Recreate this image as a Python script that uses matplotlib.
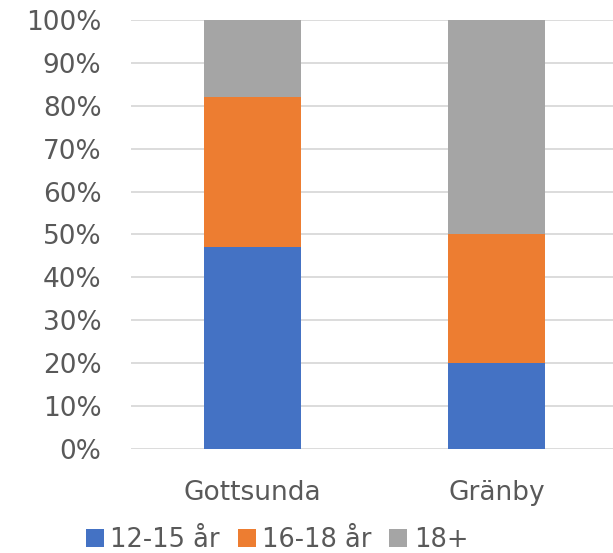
import matplotlib.pyplot as plt

# Andel per åldersgrupp
areas = ["Gottsunda", "Gränby"]
groups = ["12-15 år", "16-18 år", "18+"]
share_12_15 = [47, 20]
share_16_18 = [35, 30]
share_18plus = [18, 50]
colors = ["#4472C4", "#ED7D31", "#A5A5A5"]

plt.rcParams['font.family'] = ['DejaVu Sans']
text_color = '#595959'

fig = plt.figure(figsize=(6.13, 5.53), dpi=100)
ax = fig.add_axes([0.213, 0.188, 0.796, 0.776])

x = range(len(areas))
bottom = [0, 0]
for vals, label, col in zip([share_12_15, share_16_18, share_18plus], groups, colors):
    ax.bar(x, vals, width=0.4, bottom=bottom, color=col, label=label, zorder=3)
    bottom = [b + v for b, v in zip(bottom, vals)]

ax.set_xlim(-0.5, 1.5)
ax.set_ylim(0, 100)
ax.set_yticks(range(0, 101, 10))
ax.set_yticklabels([f'{v}%' for v in range(0, 101, 10)])
ax.set_xticks(list(x))
ax.set_xticklabels(areas)

ax.grid(axis='y', color='#D9D9D9', linewidth=1.3, zorder=0)
for s in ax.spines.values():
    s.set_visible(False)
ax.tick_params(axis='both', length=0, colors=text_color, labelsize=19)
ax.tick_params(axis='y', pad=21)
ax.tick_params(axis='x', pad=22)

ax.legend(loc='upper center', bbox_to_anchor=(0.3, -0.158), ncol=3, frameon=False,
          fontsize=18.5, labelcolor=text_color, handlelength=0.7, handleheight=0.7,
          handletextpad=0.25, columnspacing=0.7, borderaxespad=0)

fig.savefig('out.png', dpi=100)
